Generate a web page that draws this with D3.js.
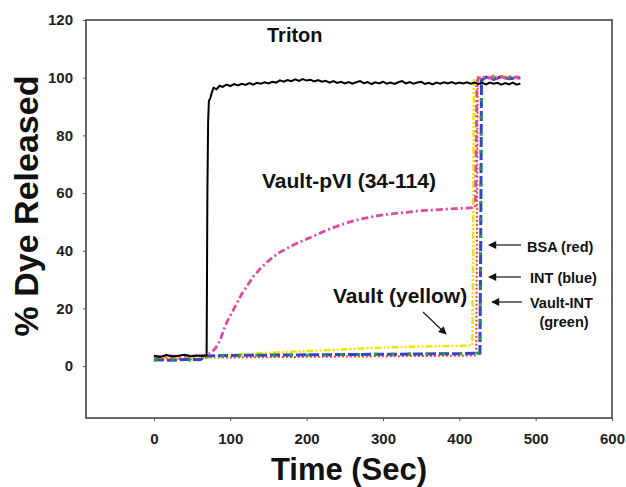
<!DOCTYPE html>
<html lang="en">
<head>
    <meta charset="UTF-8">
    <title>Dye Release</title>
    <script src="https://d3js.org/d3.v7.min.js"></script>
    <style>
        body { margin: 0; background: #fff; font-family: Arial, "Liberation Sans", sans-serif; }
        .axis text { font-weight: bold; fill: #222; font-size: 15px; }
        .axis line { stroke: #555; }
        .axis path { display: none; }
        .label { font-weight: bold; fill: #111; }
    </style>
</head>
<body>
<div id="chart"></div>
<script>
    // [time (s), % released]
    const triton = [[0,3.5],[8,3.2],[16,3.8],[24,3.3],[32,3.6],[40,3.9],[48,3.4],[56,3.7],[64,3.5],[69,3.8],[70,60],[71,85],[72,92],[74,93],[76,95],[78,96.5],[82,96],[86,97.2],[90,96.8],[95,97.6],[100,97.1],[105,97.8],[110,97.3],[115,97.9],[120,97.5],[125,98.1],[130,97.6],[135,98.2],[140,97.9],[145,98.4],[150,98],[155,98.6],[160,98.3],[165,99.1],[170,98.6],[175,99.2],[180,98.8],[185,99.4],[190,98.9],[195,99.5],[200,99],[205,99.3],[210,98.7],[215,99.2],[220,98.6],[225,98.9],[230,98.3],[235,98.8],[240,98.2],[245,98.6],[250,98],[255,98.5],[260,97.9],[265,98.4],[270,98.8],[275,98.1],[280,98.5],[285,97.8],[290,98.4],[295,98],[300,98.6],[305,97.9],[310,98.3],[315,97.8],[320,98.4],[325,98.8],[330,98],[335,98.5],[340,97.9],[345,98.3],[350,98.6],[355,97.8],[360,98.2],[365,97.7],[370,98.3],[375,97.9],[380,98.4],[385,98],[390,98.5],[395,97.9],[400,98.3],[405,98],[410,98.4],[415,97.9],[420,98.3],[425,97.8],[430,98.2],[435,97.7],[440,98.3],[445,97.9],[450,98.2],[455,97.6],[460,98.1],[465,97.7],[470,98.3],[475,97.6],[480,98]];
    const vaultPVI = [[0,3.5],[10,3.2],[20,3.6],[30,3.3],[40,3.5],[50,3.4],[60,3.6],[68,3.8],[72,4.2],[76,5],[80,6],[84,7.5],[88,10],[92,13],[96,15.5],[100,17.5],[105,20],[110,22.5],[115,25],[120,27],[125,29],[130,31],[135,32.5],[140,34],[148,36],[156,37.8],[165,39.5],[174,40.8],[185,42.3],[195,43.5],[205,44.6],[215,45.8],[225,47],[235,48],[245,49],[257,50],[268,50.8],[279,51.4],[290,52],[300,52.4],[311,52.8],[322,53.1],[333,53.4],[344,53.7],[355,54],[366,54.1],[380,54.4],[395,54.6],[410,54.8],[421,55],[422,75],[423,98],[425,100],[430,99.5],[435,100.4],[440,99.8],[445,100.6],[450,99.6],[455,100.5],[460,99.9],[465,100.6],[470,99.7],[475,100.3],[480,99.8]];
    const vault = [[0,2.8],[20,2.6],[40,2.9],[60,2.7],[70,3],[100,3.8],[150,4.6],[200,5.2],[250,5.8],[300,6.4],[350,6.8],[400,7],[417,7.2],[418,40],[419,99],[425,100],[430,99.6],[440,100.3],[450,99.7],[460,100.4],[470,99.8],[480,100.1]];
    const bsa = [[0,2.5],[20,2.7],[40,2.4],[60,2.6],[70,3],[100,3],[150,3.1],[200,3.2],[250,3.3],[300,3.4],[350,3.5],[400,3.6],[422,3.7],[423,40],[424,99],[430,100.4],[440,99.6],[450,100.5],[460,99.8],[470,100.4],[480,99.9]];
    const int = [[0,2.2],[20,2],[40,2.3],[60,2.2],[70,3.5],[100,3.7],[150,3.8],[200,3.9],[250,4],[300,4.1],[350,4.2],[400,4.3],[427,4.5],[428,40],[429,99],[435,100.2],[445,99.4],[455,100.3],[465,99.6],[480,100]];
    const vaultInt = [[0,2.1],[20,2.2],[40,2],[60,2.3],[70,3.4],[100,3.6],[150,3.8],[200,3.8],[250,4],[300,4.1],[350,4.2],[400,4.3],[427,4.5],[428,50],[429,99.5],[435,100.6],[445,99.8],[455,100.8],[465,99.9],[480,100.3]];

    const xTicks = [0, 100, 200, 300, 400, 500, 600];
    const yTicks = [0, 20, 40, 60, 80, 100, 120];

    const width = 626;
    const height = 487;
    const margin = {top: 20, right: 14, bottom: 69, left: 86};

    const svg = d3.select("#chart").append("svg")
        .attr("width", width)
        .attr("height", height);

    const x = d3.scaleLinear()
        .domain([-89, 600])
        .range([margin.left, width - margin.right]);

    const y = d3.scaleLinear()
        .domain([-18, 120])
        .range([height - margin.bottom, margin.top]);

    // axes
    svg.append("g")
        .attr("class", "axis")
        .attr("transform", `translate(0,${height - margin.bottom})`)
        .call(d3.axisBottom(x).tickValues(xTicks).tickSize(3).tickPadding(12));

    svg.append("g")
        .attr("class", "axis")
        .attr("transform", `translate(${margin.left},0)`)
        .call(d3.axisLeft(y).tickValues(yTicks).tickSize(3).tickPadding(10));

    // frame
    svg.append("rect")
        .attr("x", margin.left)
        .attr("y", margin.top)
        .attr("width", width - margin.left - margin.right)
        .attr("height", height - margin.top - margin.bottom)
        .attr("fill", "none")
        .attr("stroke", "#444")
        .attr("stroke-width", 1.6);

    const line = d3.line()
        .x(d => x(d[0]))
        .y(d => y(d[1]));

    const series = [
        {data: bsa, color: "#ff3b3b", width: 2, dash: "2,2"},
        {data: vault, color: "#f2e600", width: 2.5, dash: "7,2,2,2,2,2"},
        {data: int, color: "#3046c4", width: 3, dash: "10,3"},
        {data: vaultInt, color: "#1fa24a", width: 3, dash: "3,14"},
        {data: vaultPVI, color: "#dc4aa6", width: 2.8, dash: "7,3,2,3"},
        {data: triton, color: "#000", width: 2, dash: null}
    ];

    series.forEach(s => {
        svg.append("path")
            .datum(s.data)
            .attr("fill", "none")
            .attr("stroke", s.color)
            .attr("stroke-width", s.width)
            .attr("stroke-dasharray", s.dash)
            .attr("d", line);
    });

    // arrow marker
    svg.append("defs").append("marker")
        .attr("id", "head")
        .attr("viewBox", "0 0 10 10")
        .attr("refX", 9)
        .attr("refY", 5)
        .attr("markerWidth", 9)
        .attr("markerHeight", 8)
        .attr("markerUnits", "userSpaceOnUse")
        .attr("orient", "auto")
        .append("path")
        .attr("d", "M0,0L10,5L0,10Z")
        .attr("fill", "#111");

    function arrow(x1, y1, x2, y2) {
        svg.append("line")
            .attr("x1", x1).attr("y1", y1)
            .attr("x2", x2).attr("y2", y2)
            .attr("stroke", "#222")
            .attr("stroke-width", 1.3)
            .attr("marker-end", "url(#head)");
    }

    // annotations
    const text = (tx, ty, str, size, anchor) => svg.append("text")
        .attr("class", "label")
        .attr("x", tx).attr("y", ty)
        .attr("text-anchor", anchor || "start")
        .style("font-size", size + "px")
        .text(str);

    text(267, 42, "Triton", 20);
    text(262, 188, "Vault-pVI (34-114)", 21);
    text(333, 303, "Vault (yellow)", 21);
    arrow(423, 312, 446, 334);

    text(527, 252, "BSA (red)", 14.5);
    text(530, 283, "INT (blue)", 14.5);
    text(530, 308, "Vault-INT", 14.5);
    text(564, 327, "(green)", 14.5, "middle");
    arrow(521, 245, 489, 245);
    arrow(521, 277, 489, 277);
    arrow(522, 302, 492, 302);

    // axis titles
    svg.append("text")
        .attr("class", "label")
        .attr("text-anchor", "middle")
        .attr("transform", "translate(38,206) rotate(-90)")
        .style("font-size", "34px")
        .text("% Dye Released");

    svg.append("text")
        .attr("class", "label")
        .attr("x", 349)
        .attr("y", 480)
        .attr("text-anchor", "middle")
        .style("font-size", "31px")
        .text("Time (Sec)");
</script>
</body>
</html>
